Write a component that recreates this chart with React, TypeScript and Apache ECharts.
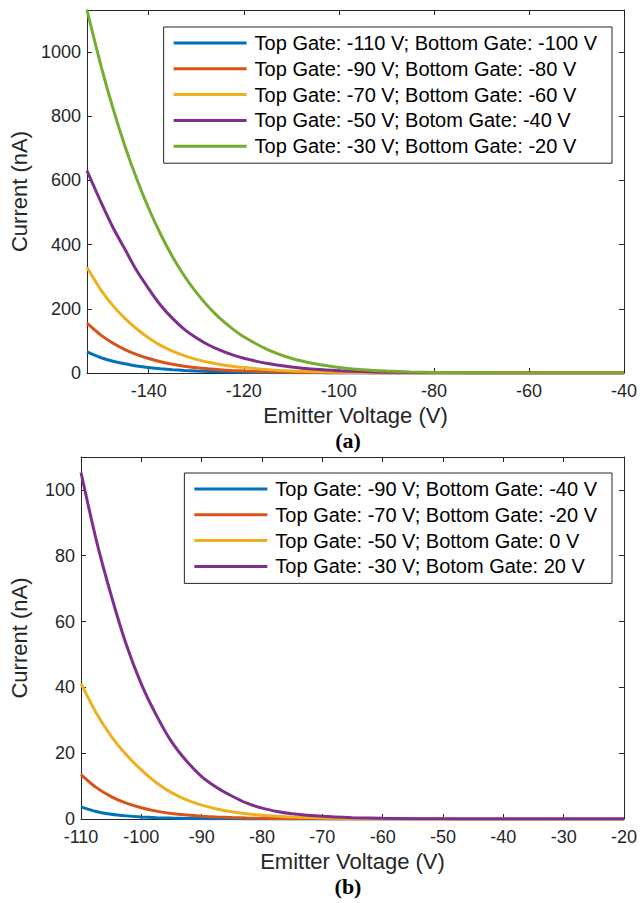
import React, { useEffect, useRef } from 'react';
import * as echarts from 'echarts';

// ---- Panel (a) ----
const topVoltage = [-153, -150, -147.5, -145, -142.5, -140, -137.5, -135, -132.5, -130, -127.5, -125, -122.5, -120, -115, -110, -105, -100, -95, -90, -85, -80, -75, -70, -65, -60, -55, -50, -45, -40];
const topNames = [
  'Top Gate: -110 V; Bottom Gate: -100 V',
  'Top Gate: -90 V; Bottom Gate: -80 V',
  'Top Gate: -70 V; Bottom Gate: -60 V',
  'Top Gate: -50 V; Botom Gate: -40 V',
  'Top Gate: -30 V; Bottom Gate: -20 V',
];
const topBlue = [66, 47.5, 36.5, 28.5, 21.5, 17, 13.2, 10.3, 8.0, 6.3, 4.9, 3.8, 3.0, 2.3, 1.4, 0.85, 0.5, 0.3, 0.18, 0.1, 0.06, 0.035, 0.02, 0.01, 0.006, 0.003, 0.002, 0.001, 0, 0];
const topRed = [155, 117, 92.5, 73, 57.5, 45, 35, 27.4, 21.3, 16.6, 12.9, 10, 7.8, 6.1, 3.6, 2.1, 1.25, 0.73, 0.43, 0.25, 0.15, 0.085, 0.05, 0.03, 0.015, 0.008, 0.004, 0.002, 0.001, 0];
const topYellow = [329, 257, 209, 170, 137, 109, 86, 68, 54, 42.5, 33.5, 26.5, 21, 16.8, 10.5, 6.5, 4.0, 2.4, 1.45, 0.85, 0.5, 0.28, 0.16, 0.09, 0.05, 0.025, 0.012, 0.006, 0.003, 0.001];
const topPurple = [630, 530, 452, 385, 318, 262, 211, 170, 136, 110, 88, 71, 57, 46, 29.3, 18.5, 11.5, 7.1, 4.3, 2.6, 1.5, 0.85, 0.47, 0.25, 0.13, 0.06, 0.03, 0.015, 0.007, 0.002];
const topGreen = [1130, 954, 823, 706, 603, 512, 432, 362, 302, 251, 207, 170, 139, 113, 73, 46, 28.6, 17.3, 10.2, 5.9, 3.3, 1.85, 1.0, 0.53, 0.27, 0.14, 0.07, 0.03, 0.015, 0.005];
const topSeries = [topBlue, topRed, topYellow, topPurple, topGreen];

// ---- Panel (b) ----
const bottomVoltage = [-110, -107.5, -105, -102.5, -100, -97.5, -95, -92.5, -90, -87.5, -85, -82.5, -80, -77.5, -75, -70, -65, -60, -55, -50, -45, -40, -35, -30, -25, -20];
const bottomNames = [
  'Top Gate: -90 V; Bottom Gate: -40 V',
  'Top Gate: -70 V; Bottom Gate: -20 V',
  'Top Gate: -50 V; Bottom Gate: 0 V',
  'Top Gate: -30 V; Botom Gate: 20 V',
];
const bottomBlue = [3.7, 2.3, 1.45, 0.95, 0.62, 0.4, 0.27, 0.18, 0.12, 0.08, 0.055, 0.037, 0.025, 0.017, 0.012, 0.006, 0.003, 0.001, 0, 0, 0, 0, 0, 0, 0, 0];
const bottomRed = [13.5, 9.6, 6.8, 4.8, 3.4, 2.4, 1.7, 1.2, 0.85, 0.6, 0.42, 0.3, 0.21, 0.15, 0.1, 0.05, 0.025, 0.012, 0.006, 0.003, 0.001, 0, 0, 0, 0, 0];
const bottomYellow = [41.2, 32.3, 25.2, 19.5, 14.9, 11.0, 8.0, 5.8, 4.2, 3.05, 2.2, 1.6, 1.15, 0.83, 0.6, 0.3, 0.15, 0.07, 0.035, 0.017, 0.008, 0.004, 0.002, 0.001, 0, 0];
const bottomPurple = [105.3, 85, 68, 53, 41, 31.5, 23.5, 17.6, 12.9, 9.6, 7.0, 4.8, 3.3, 2.3, 1.6, 0.8, 0.4, 0.2, 0.1, 0.05, 0.025, 0.012, 0.006, 0.003, 0.001, 0];
const bottomSeries = [bottomBlue, bottomRed, bottomYellow, bottomPurple];

const colors = ['#0072BD', '#D95319', '#EDB120', '#7E2F8E', '#77AC30'];
const axisColor = '#262626';
const font = '"Liberation Sans", Arial, Helvetica, sans-serif';

export default function App() {
  const ref = useRef<HTMLDivElement>(null);

  useEffect(() => {
    const chart = echarts.init(ref.current!, null, { renderer: 'svg' });

    const fmt = (step: number) => (v: number) =>
      Math.abs(v % step) < 1e-9 ? String(v) : '';

    const mainX = (gridIndex: number, min: number, max: number, step: number, useInterval: boolean) => ({
      type: 'value',
      gridIndex,
      position: 'bottom',
      min,
      max,
      ...(useInterval ? { interval: step } : { minInterval: step, maxInterval: step }),
      name: 'Emitter Voltage (V)',
      nameLocation: 'middle',
      nameGap: 31,
      nameTextStyle: { fontFamily: font, fontSize: 22, color: axisColor },
      axisLine: { show: true, onZero: false, lineStyle: { color: axisColor, width: 1 } },
      axisTick: { show: true, inside: true, length: 5, lineStyle: { color: axisColor } },
      axisLabel: { show: true, margin: 10, lineHeight: 15, fontFamily: font, fontSize: 18, color: axisColor, formatter: fmt(step) },
      splitLine: { show: false },
    });
    const mirrorX = (gridIndex: number, min: number, max: number, step: number, useInterval: boolean) => ({
      type: 'value',
      gridIndex,
      position: 'top',
      min,
      max,
      ...(useInterval ? { interval: step } : { minInterval: step, maxInterval: step }),
      axisLine: { show: true, onZero: false, lineStyle: { color: axisColor, width: 1 } },
      axisTick: { show: true, inside: true, length: 5, lineStyle: { color: axisColor } },
      axisLabel: { show: false },
      splitLine: { show: false },
    });
    const mainY = (gridIndex: number, max: number, step: number) => ({
      type: 'value',
      gridIndex,
      position: 'left',
      min: 0,
      max,
      interval: step,
      name: 'Current (nA)',
      nameLocation: 'middle',
      nameGap: 51,
      nameTextStyle: { fontFamily: font, fontSize: 22, color: axisColor },
      axisLine: { show: true, onZero: false, lineStyle: { color: axisColor, width: 1 } },
      axisTick: { show: true, inside: true, length: 5, lineStyle: { color: axisColor } },
      axisLabel: { show: true, margin: 6, lineHeight: 15, fontFamily: font, fontSize: 18, color: axisColor, formatter: fmt(step) },
      splitLine: { show: false },
    });
    const mirrorY = (gridIndex: number, max: number, step: number) => ({
      type: 'value',
      gridIndex,
      position: 'right',
      min: 0,
      max,
      interval: step,
      axisLine: { show: true, onZero: false, lineStyle: { color: axisColor, width: 1 } },
      axisTick: { show: true, inside: true, length: 5, lineStyle: { color: axisColor } },
      axisLabel: { show: false },
      splitLine: { show: false },
    });

    const legendBase = {
      orient: 'vertical',
      right: 28,
      padding: [6, 15, 7, 10],
      itemGap: 5.8,
      itemWidth: 73,
      itemHeight: 3,
      icon: 'rect',
      borderColor: axisColor,
      borderWidth: 1,
      backgroundColor: '#ffffff',
      selectedMode: false,
      textStyle: { fontFamily: font, fontSize: 20, color: '#000', lineHeight: 20, padding: [0, 0, 0, 3] },
    };

    const series: any[] = [];
    topSeries.forEach((vals, i) => {
      series.push({
        name: topNames[i],
        type: 'line',
        xAxisIndex: 0,
        yAxisIndex: 0,
        data: topVoltage.map((x, k) => [x, vals[k]]),
        showSymbol: false,
        symbol: 'none',
        smooth: 0.25,
        color: colors[i],
        lineStyle: { width: 3, color: colors[i] },
      });
    });
    bottomSeries.forEach((vals, i) => {
      series.push({
        name: bottomNames[i],
        type: 'line',
        xAxisIndex: 1,
        yAxisIndex: 1,
        data: bottomVoltage.map((x, k) => [x, vals[k]]),
        showSymbol: false,
        symbol: 'none',
        smooth: 0.25,
        color: colors[i],
        lineStyle: { width: 3, color: colors[i] },
      });
    });

    const option: any = {
      animation: false,
      backgroundColor: '#ffffff',
      grid: [
        { left: 80, right: 12, top: 10, height: 363 },
        { left: 80, right: 12, top: 457, height: 362 },
      ],
      xAxis: [
        mainX(0, -153, -40, 20, false),
        mainX(1, -110, -20, 10, true),
        mirrorX(0, -153, -40, 20, false),
        mirrorX(1, -110, -20, 10, true),
      ],
      yAxis: [
        mainY(0, 1130, 200),
        mainY(1, 110, 20),
        mirrorY(0, 1130, 200),
        mirrorY(1, 110, 20),
      ],
      legend: [
        { ...legendBase, top: 27, data: topNames },
        { ...legendBase, top: 473, data: bottomNames },
      ],
      graphic: [
        {
          type: 'text',
          x: 348,
          y: 440,
          style: {
            text: '(a)',
            fontFamily: '"Liberation Serif", "Times New Roman", serif',
            fontWeight: 'bold',
            fontSize: 22,
            fill: '#000',
            textAlign: 'center',
            textVerticalAlign: 'middle',
          },
        },
        {
          type: 'text',
          x: 348,
          y: 886,
          style: {
            text: '(b)',
            fontFamily: '"Liberation Serif", "Times New Roman", serif',
            fontWeight: 'bold',
            fontSize: 22,
            fill: '#000',
            textAlign: 'center',
            textVerticalAlign: 'middle',
          },
        },
      ],
      series,
    };

    chart.setOption(option);
    return () => chart.dispose();
  }, []);

  return (
    <div
      ref={ref}
      style={{ position: 'fixed', left: 0, top: 0, width: 640, height: 903, background: '#ffffff' }}
    />
  );
}
